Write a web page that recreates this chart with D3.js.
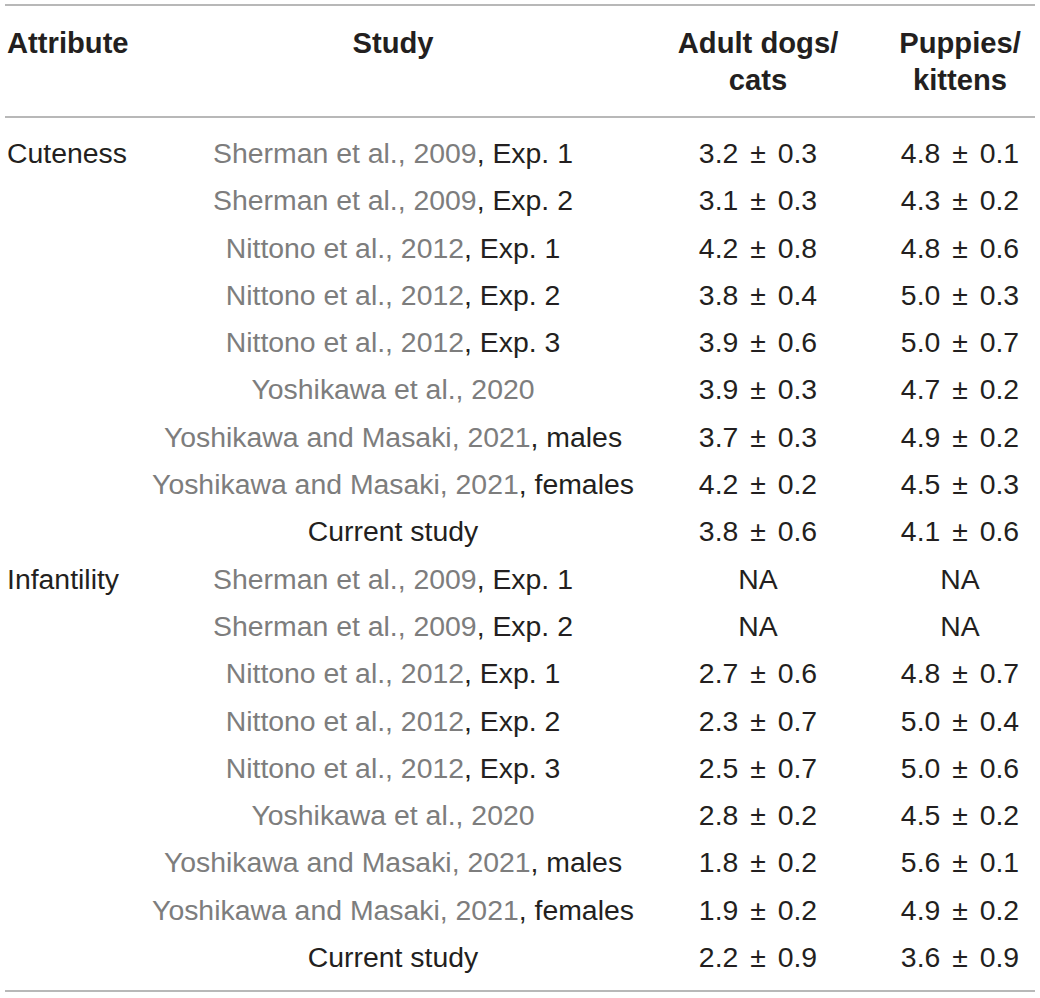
<!DOCTYPE html>
<html>
<head>
<meta charset="utf-8">
<script src="https://cdn.jsdelivr.net/npm/d3@7"></script>
<style>
	body { margin: 0; background: #fff; }
	text { font-family: 'Liberation Sans', Arial, sans-serif; }
</style>
</head>
<body>
<script>
/* Data. */
const attributes = ['Cuteness', 'Infantility'];
const studyCites = [
	'Sherman et al., 2009', 'Sherman et al., 2009',
	'Nittono et al., 2012', 'Nittono et al., 2012', 'Nittono et al., 2012',
	'Yoshikawa et al., 2020',
	'Yoshikawa and Masaki, 2021', 'Yoshikawa and Masaki, 2021',
	''
];
const studySuffixes = [
	', Exp. 1', ', Exp. 2',
	', Exp. 1', ', Exp. 2', ', Exp. 3',
	'',
	', males', ', females',
	'Current study'
];
const adultMeans = [3.2, 3.1, 4.2, 3.8, 3.9, 3.9, 3.7, 4.2, 3.8,
	null, null, 2.7, 2.3, 2.5, 2.8, 1.8, 1.9, 2.2];
const adultSds = [0.3, 0.3, 0.8, 0.4, 0.6, 0.3, 0.3, 0.2, 0.6,
	null, null, 0.6, 0.7, 0.7, 0.2, 0.2, 0.2, 0.9];
const puppyMeans = [4.8, 4.3, 4.8, 5.0, 5.0, 4.7, 4.9, 4.5, 4.1,
	null, null, 4.8, 5.0, 5.0, 4.5, 5.6, 4.9, 3.6];
const puppySds = [0.1, 0.2, 0.6, 0.3, 0.7, 0.2, 0.2, 0.3, 0.6,
	null, null, 0.7, 0.4, 0.6, 0.2, 0.1, 0.2, 0.9];
const headers = [['Attribute'], ['Study'], ['Adult dogs/', 'cats'], ['Puppies/', 'kittens']];

/* Build rows. */
let fmt = d3.format('.1f');
let rows = [];
attributes.forEach(function(attribute, a) {
	studyCites.forEach(function(cite, s) {
		let i = a * studyCites.length + s;
		rows.push({
			attribute: s === 0 ? attribute : '',
			cite: cite,
			suffix: studySuffixes[s],
			adult: adultMeans[i] === null ? 'NA' : fmt(adultMeans[i]) + ' \u00b1 ' + fmt(adultSds[i]),
			puppy: puppyMeans[i] === null ? 'NA' : fmt(puppyMeans[i]) + ' \u00b1 ' + fmt(puppySds[i])
		});
	});
});

/* Scales. */
const width = 1040;
const height = 998;
const bodySize = 28.4;
const headSize = 29.2;
const yScale = d3.scaleLinear()
	.domain([0, rows.length - 1])
	.range([163, 967]);
const xCols = d3.scaleOrdinal()
	.domain(['attribute', 'study', 'adult', 'puppy'])
	.range([7, 393, 758, 960]);
const anchors = ['start', 'middle', 'middle', 'middle'];

const svg = d3.select('body').append('svg')
	.attr('width', width)
	.attr('height', height);

/* Rules. */
svg.selectAll('.rule')
		.data([5, 117, 991])
	.enter().append('line')
		.attr('class', 'rule')
		.attr('x1', 5)
		.attr('x2', 1035)
		.attr('y1', function(d) { return d; })
		.attr('y2', function(d) { return d; })
		.attr('stroke', '#a0a0a0')
		.attr('stroke-width', 1.6);

/* Header. */
svg.selectAll('.header')
		.data(headers)
	.enter().append('text')
		.attr('class', 'header')
		.attr('x', function(_, i) { return xCols(xCols.domain()[i]); })
		.attr('y', 53)
		.attr('text-anchor', function(_, i) { return anchors[i]; })
		.attr('font-size', headSize)
		.attr('font-weight', 'bold')
		.attr('fill', '#231f20')
		.each(function(lines) {
			let t = d3.select(this);
			lines.forEach(function(line, j) {
				t.append('tspan')
					.attr('x', t.attr('x'))
					.attr('dy', j === 0 ? 0 : 37)
					.text(line);
			});
		});

/* Body. */
let rowG = svg.selectAll('.row')
		.data(rows)
	.enter().append('g')
		.attr('class', 'row')
		.attr('transform', function(_, i) { return 'translate(0,' + yScale(i) + ')'; });

rowG.append('text')
	.attr('x', xCols('attribute'))
	.attr('font-size', bodySize)
	.attr('fill', '#231f20')
	.text(function(d) { return d.attribute; });

let studyText = rowG.append('text')
	.attr('x', xCols('study'))
	.attr('text-anchor', 'middle')
	.attr('font-size', bodySize);
studyText.append('tspan')
	.attr('fill', '#7d7d7d')
	.text(function(d) { return d.cite; });
studyText.append('tspan')
	.attr('fill', '#231f20')
	.text(function(d) { return d.suffix; });

rowG.append('text')
	.attr('x', xCols('adult'))
	.attr('text-anchor', 'middle')
	.attr('font-size', bodySize)
	.attr('word-spacing', 4)
	.attr('fill', '#231f20')
	.text(function(d) { return d.adult; });

rowG.append('text')
	.attr('x', xCols('puppy'))
	.attr('text-anchor', 'middle')
	.attr('font-size', bodySize)
	.attr('word-spacing', 4)
	.attr('fill', '#231f20')
	.text(function(d) { return d.puppy; });
</script>
</body>
</html>
